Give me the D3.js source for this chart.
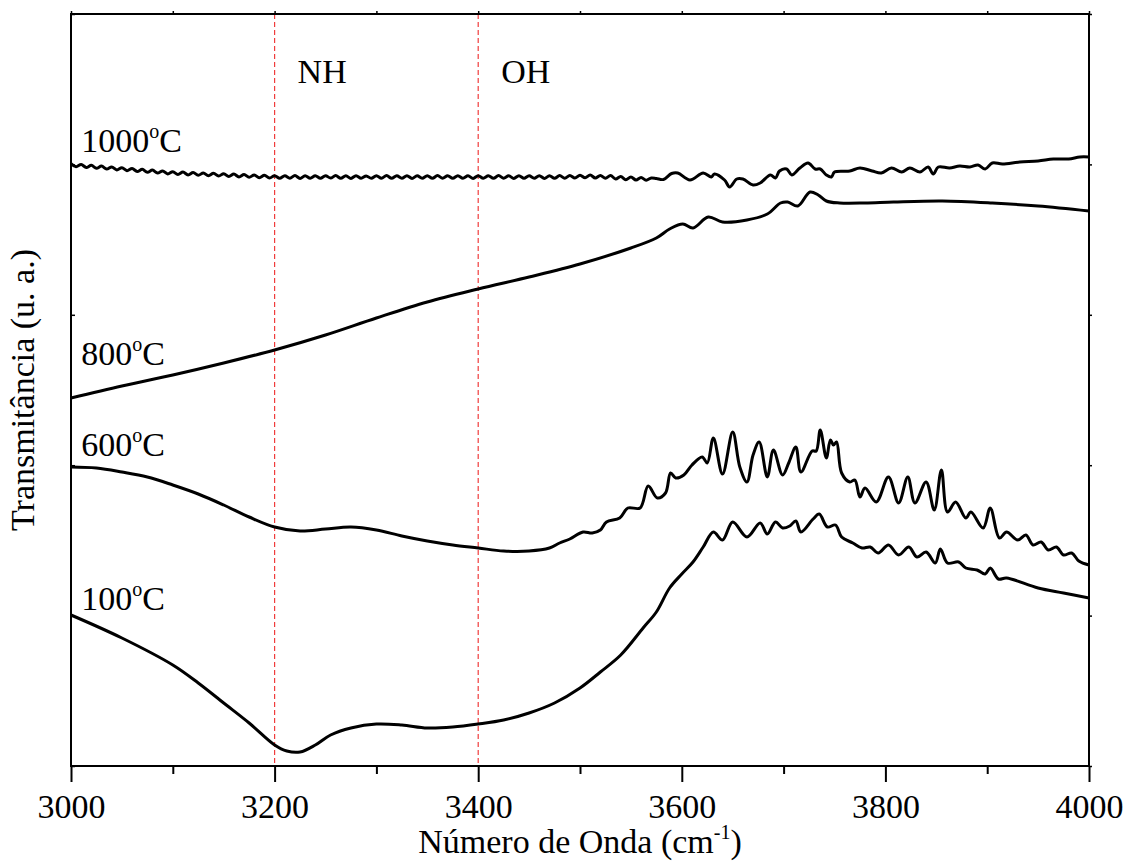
<!DOCTYPE html>
<html>
<head>
<meta charset="utf-8">
<script src="https://cdn.jsdelivr.net/npm/d3@7"></script>
<style>
  body { margin: 0; background: #fff; }
  svg, svg text { font-family: "Liberation Serif", "Times New Roman", "DejaVu Serif", serif !important; }
</style>
</head>
<body>
<svg id="chart" width="1133" height="862"></svg>
<script>
// FTIR spectra (transmittance, arbitrary units) vs wavenumber, four calcination temperatures.

const xTicksMajor = [3000, 3200, 3400, 3600, 3800, 4000];
const xTicksMinor = [3100, 3300, 3500, 3700, 3900];
const bandLines = [3200, 3400];
const bandNames = ["NH", "OH"];

// [wavenumber, transmittance]
const t100 = [
  [3000, 15.1], [3050, 12.8], [3100, 10.1], [3125, 8.3], [3150, 6.3], [3175, 4.3],
  [3200, 2.1], [3212, 1.5], [3225, 1.4], [3240, 2.1], [3255, 3.1], [3275, 3.8],
  [3300, 4.2], [3325, 4.1], [3350, 3.8], [3375, 3.9], [3400, 4.2], [3425, 4.6],
  [3450, 5.3], [3475, 6.3], [3500, 7.8], [3520, 9.4], [3540, 11.1], [3562, 13.8],
  [3575, 15.4], [3588, 17.8], [3600, 19.2], [3611, 20.4], [3621, 21.9], [3631, 23.4],
  [3640, 22.6], [3650, 24.4], [3664, 22.9], [3677, 24.3], [3684, 23.2], [3692, 24.4],
  [3699, 23.8], [3706, 24.0], [3712, 24.5], [3717, 23.4], [3729, 24.7], [3735, 25.2],
  [3743, 23.9], [3751, 24.1], [3757, 22.9], [3768, 22.3], [3777, 21.8], [3785, 21.9],
  [3793, 21.3], [3803, 22.1], [3813, 21.1], [3823, 21.9], [3831, 20.9], [3840, 21.4],
  [3849, 20.3], [3854, 21.7], [3861, 20.3], [3872, 20.4], [3879, 19.8], [3890, 19.6],
  [3898, 19.2], [3903, 19.8], [3911, 18.7], [3919, 18.8], [3950, 17.8], [3975, 17.3],
  [4000, 16.8]
];

const t600 = [
  [3000, 29.9], [3025, 29.8], [3050, 29.4], [3075, 28.9], [3100, 28.1], [3125, 27.2],
  [3150, 26.1], [3175, 24.9], [3200, 23.9], [3225, 23.5], [3250, 23.7], [3275, 23.9],
  [3300, 23.6], [3325, 23.0], [3350, 22.5], [3375, 22.1], [3400, 21.8], [3425, 21.5],
  [3450, 21.5], [3470, 21.8], [3480, 22.3], [3490, 22.7], [3503, 23.4], [3512, 23.3],
  [3520, 23.6], [3526, 24.4], [3539, 24.8], [3547, 25.8], [3559, 25.8], [3567, 28.0],
  [3576, 26.8], [3584, 27.3], [3589, 29.3], [3594, 28.8], [3602, 29.1], [3610, 30.1],
  [3620, 30.9], [3625, 30.3], [3631, 32.8], [3640, 29.2], [3650, 33.4], [3657, 29.9],
  [3664, 28.4], [3670, 31.1], [3676, 32.4], [3684, 28.9], [3690, 31.6], [3699, 29.1],
  [3705, 30.3], [3712, 31.9], [3717, 29.4], [3728, 31.5], [3732, 31.5], [3736, 33.6],
  [3742, 30.8], [3746, 32.6], [3749, 32.1], [3752, 32.4], [3757, 29.3], [3765, 28.4],
  [3770, 28.6], [3775, 26.9], [3780, 27.8], [3791, 26.4], [3803, 28.9], [3813, 26.3],
  [3822, 28.9], [3829, 26.3], [3840, 28.4], [3848, 25.6], [3855, 29.6], [3861, 25.4],
  [3869, 26.4], [3879, 24.8], [3884, 25.4], [3896, 23.8], [3903, 25.8], [3912, 22.8],
  [3919, 23.4], [3930, 22.6], [3938, 23.1], [3945, 22.1], [3953, 22.4], [3960, 21.6],
  [3968, 21.9], [3975, 21.1], [3983, 21.3], [3990, 20.5], [4000, 20.1]
];

const t800 = [
  [3000, 36.8], [3050, 38.0], [3100, 39.1], [3150, 40.3], [3200, 41.6], [3250, 43.1],
  [3300, 44.8], [3350, 46.4], [3400, 47.7], [3450, 48.9], [3500, 50.2], [3550, 51.8],
  [3575, 52.8], [3588, 53.7], [3601, 54.2], [3611, 53.8], [3626, 54.9], [3640, 54.4],
  [3664, 54.6], [3684, 55.2], [3697, 56.3], [3704, 56.4], [3714, 56.0], [3726, 57.4],
  [3734, 57.1], [3742, 56.5], [3755, 56.3], [3780, 56.3], [3808, 56.4], [3856, 56.5],
  [3905, 56.3], [3950, 56.0], [4000, 55.5]
];

const t1000 = [
  [3000, 60.23], [3005, 59.93], [3010, 60.15], [3015, 59.85], [3020, 60.07], [3025, 59.77],
  [3030, 59.99], [3035, 59.69], [3040, 59.91], [3045, 59.61], [3050, 59.83], [3055, 59.53],
  [3060, 59.75], [3065, 59.45], [3070, 59.67], [3075, 59.37], [3080, 59.59], [3085, 59.29],
  [3090, 59.51], [3095, 59.21], [3100, 59.43], [3105, 59.15], [3110, 59.39], [3115, 59.11],
  [3120, 59.35], [3125, 59.07], [3130, 59.31], [3135, 59.03], [3140, 59.27], [3145, 58.99],
  [3150, 59.23], [3155, 58.95], [3160, 59.19], [3165, 58.91], [3170, 59.15], [3175, 58.87],
  [3180, 59.11], [3185, 58.83], [3190, 59.07], [3195, 58.79], [3200, 59.03], [3205, 58.77],
  [3210, 59.02], [3215, 58.78], [3220, 59.04], [3225, 58.76], [3230, 59.03], [3235, 58.78],
  [3240, 59.02], [3245, 58.77], [3250, 59.03], [3255, 58.79], [3260, 59.04], [3265, 58.77],
  [3270, 59.02], [3275, 58.76], [3280, 59.03], [3285, 58.78], [3290, 59.01], [3295, 58.77],
  [3300, 59.03], [3305, 58.78], [3310, 59.04], [3315, 58.77], [3320, 59.02], [3325, 58.78],
  [3330, 59.03], [3335, 58.76], [3340, 59.02], [3345, 58.78], [3350, 59.03], [3355, 58.77],
  [3360, 59.04], [3365, 58.78], [3370, 59.02], [3375, 58.77], [3380, 59.03], [3385, 58.78],
  [3390, 59.02], [3395, 58.76], [3400, 59.03], [3405, 58.78], [3410, 59.02], [3415, 58.77],
  [3420, 59.04], [3425, 58.78], [3430, 59.02], [3435, 58.76], [3440, 59.03], [3445, 58.77],
  [3450, 59.02], [3455, 58.78], [3460, 59.03], [3465, 58.76], [3470, 59.02], [3475, 58.77],
  [3480, 59.04], [3485, 58.78], [3490, 59.05], [3495, 58.80], [3500, 59.08], [3505, 58.82],
  [3510, 59.10], [3515, 58.80], [3520, 59.06], [3525, 58.78], [3530, 59.05], [3535, 58.70],
  [3540, 58.95], [3545, 58.62], [3550, 58.90], [3555, 58.60], [3560, 58.85], [3565, 58.58],
  [3570, 58.80], [3575, 58.75], [3582, 58.65], [3590, 59.25], [3596, 59.3], [3608, 58.6],
  [3621, 59.3], [3629, 58.9], [3632, 59.2], [3642, 58.6], [3647, 57.9], [3654, 58.7],
  [3660, 58.7], [3670, 58.1], [3677, 58.3], [3687, 59.1], [3692, 58.8], [3696, 59.5],
  [3703, 59.7], [3708, 59.1], [3716, 59.8], [3724, 60.3], [3731, 59.7], [3736, 59.7],
  [3742, 59.1], [3747, 58.9], [3750, 59.4], [3765, 59.5], [3775, 59.8], [3787, 59.5],
  [3796, 59.3], [3806, 59.8], [3816, 59.4], [3824, 59.8], [3834, 59.4], [3842, 59.9],
  [3847, 59.2], [3852, 59.9], [3863, 59.8], [3873, 60.0], [3883, 59.9], [3891, 60.1],
  [3898, 59.7], [3905, 60.3], [3915, 60.2], [3932, 60.4], [3950, 60.5], [3965, 60.7],
  [3980, 60.7], [3991, 60.9], [4000, 60.9]
];

const seriesData = [t100, t600, t800, t1000];
const seriesTemps = ["100", "600", "800", "1000"];
// where each temperature label sits, in data units
const labelAnchors = [[3010, 15.6], [3010, 31.0], [3010, 40.1], [3010, 61.4]];

const width = 1133, height = 862;
const margin = {top: 14, right: 44, bottom: 96, left: 71};
const fontSize = 34;
const serif = '"Liberation Serif", "Times New Roman", "DejaVu Serif", serif';

const svg = d3.select("#chart").style("font-family", serif);

const x = d3.scaleLinear().domain([3000, 4000]).range([margin.left, width - margin.right]);
const y = d3.scaleLinear().domain([0, 75.2]).range([height - margin.bottom, margin.top]);
const yTicks = d3.range(0, 6).map(i => i * 75.2 / 5);

// band marker lines
svg.append("g")
    .selectAll("line")
    .data(bandLines)
    .join("line")
    .attr("x1", d => x(d)).attr("x2", d => x(d))
    .attr("y1", y.range()[1]).attr("y2", y.range()[0])
    .attr("stroke", "#f03c3c")
    .attr("stroke-width", 1.2)
    .attr("stroke-dasharray", "5,3");

svg.append("g")
    .selectAll("text")
    .data(bandLines)
    .join("text")
    .attr("x", d => x(d) + 23)
    .attr("y", 83)
    .attr("font-size", fontSize)
    .style("font-family", serif)
    .text((d, i) => bandNames[i]);

// spectra
let line = d3.line()
    .x(d => x(d[0]))
    .y(d => y(d[1]))
    .curve(d3.curveCatmullRom.alpha(0.5));

svg.append("g")
    .selectAll("path")
    .data(seriesData)
    .join("path")
    .attr("fill", "none")
    .attr("stroke", "#000")
    .attr("stroke-width", 3)
    .attr("stroke-linejoin", "round")
    .attr("d", line);

// temperature labels
let labels = svg.append("g")
    .selectAll("text")
    .data(seriesTemps)
    .join("text")
    .attr("x", (d, i) => x(labelAnchors[i][0]))
    .attr("y", (d, i) => y(labelAnchors[i][1]))
    .attr("font-size", fontSize)
    .style("font-family", serif);
labels.append("tspan").text(d => d);
labels.append("tspan").attr("font-size", 20).attr("dy", -14).text("o");
labels.append("tspan").attr("dy", 14).text("C");

// frame
svg.append("rect")
    .attr("x", margin.left).attr("y", margin.top)
    .attr("width", width - margin.left - margin.right)
    .attr("height", height - margin.top - margin.bottom)
    .attr("fill", "none")
    .attr("stroke", "#000")
    .attr("stroke-width", 2);

// bottom axis: major with labels, minor without
let bottom = svg.append("g").attr("transform", `translate(0,${y.range()[0]})`);
bottom.append("g")
    .call(d3.axisBottom(x).tickValues(xTicksMajor).tickSize(16).tickPadding(12).tickFormat(d3.format("d")))
    .attr("font-family", null)
    .call(g => g.select(".domain").remove())
    .call(g => g.selectAll("line").attr("stroke-width", 2))
    .call(g => g.selectAll("text")
        .attr("font-size", fontSize)
        .style("font-family", serif));
bottom.append("g")
    .call(d3.axisBottom(x).tickValues(xTicksMinor).tickSize(8).tickFormat(""))
    .call(g => g.select(".domain").remove())
    .call(g => g.selectAll("line").attr("stroke-width", 2));

// top axis, tiny ticks
svg.append("g")
    .attr("transform", `translate(0,${y.range()[1]})`)
    .call(d3.axisTop(x).tickValues(xTicksMajor.concat(xTicksMinor)).tickSize(3).tickFormat(""))
    .call(g => g.select(".domain").remove())
    .call(g => g.selectAll("line").attr("stroke-width", 1.5));

// left / right axes, unlabeled
svg.append("g")
    .attr("transform", `translate(${x.range()[0]},0)`)
    .call(d3.axisLeft(y).tickValues(yTicks).tickSize(-4).tickFormat(""))
    .call(g => g.select(".domain").remove())
    .call(g => g.selectAll("line").attr("stroke-width", 1.5));
svg.append("g")
    .attr("transform", `translate(${x.range()[1]},0)`)
    .call(d3.axisRight(y).tickValues(yTicks).tickSize(3).tickFormat(""))
    .call(g => g.select(".domain").remove())
    .call(g => g.selectAll("line").attr("stroke-width", 1.5));

// axis titles
let xTitle = svg.append("text")
    .attr("x", (x.range()[0] + x.range()[1]) / 2)
    .attr("y", 853)
    .attr("text-anchor", "middle")
    .attr("font-size", fontSize)
    .style("font-family", serif);
xTitle.append("tspan").text("Número de Onda (cm");
xTitle.append("tspan").attr("font-size", 20).attr("dy", -14).text("-1");
xTitle.append("tspan").attr("dy", 14).text(")");

svg.append("text")
    .attr("transform", `translate(34,${(y.range()[0] + y.range()[1]) / 2}) rotate(-90)`)
    .attr("text-anchor", "middle")
    .attr("font-size", fontSize)
    .style("font-family", serif)
    .text("Transmitância (u. a.)");
</script>
</body>
</html>
